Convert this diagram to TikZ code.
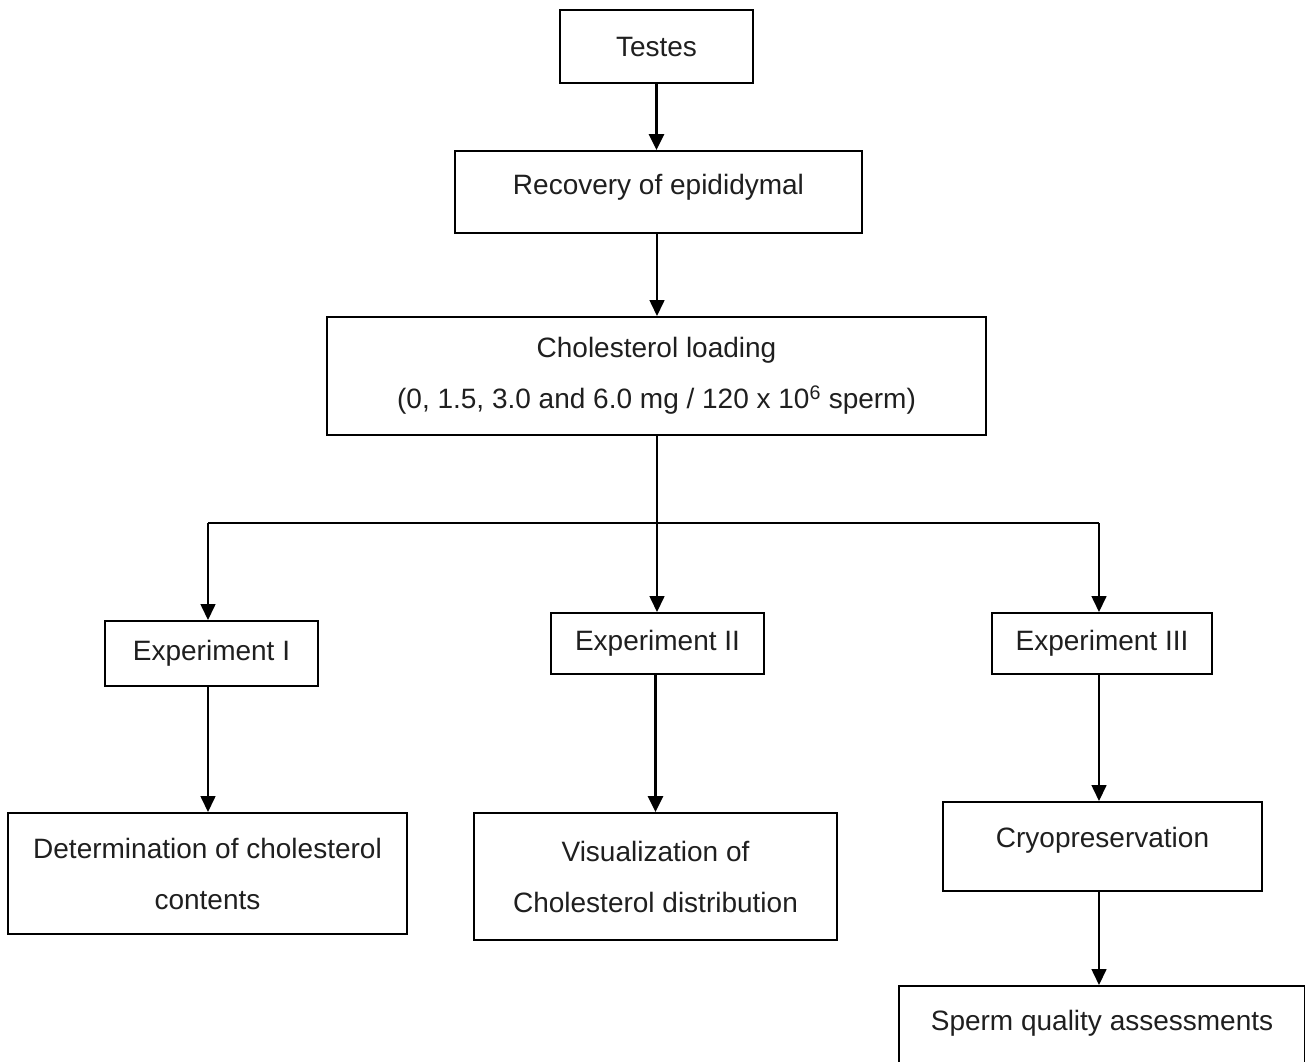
\documentclass[tikz,border=0pt]{standalone}
\usepackage{fontspec}
\setmainfont{Liberation Sans}
\usetikzlibrary{arrows.meta}
\begin{document}
\begin{tikzpicture}[x=1pt,y=-1pt,
  box/.style={draw=black, line width=2pt, inner sep=0pt, align=center,
    font=\fontsize{28}{51}\selectfont, text=black!88},
  conn/.style={line width=1.6pt, draw=black},
  arr/.style={conn, -{Triangle[width=15pt,length=16pt]}},
  thickarr/.style={arr, line width=2.8pt},
]
\useasboundingbox (0,0) rectangle (1305,1061);
\clip (0,0) rectangle (1305,1061);
\fill[white] (0,0) rectangle (1305,1061);

% boxes
\node[box, minimum width=193pt, minimum height=73pt] (testes) at (656.5,46.5) {Testes};
\node[box, minimum width=407pt, minimum height=82pt] (recovery) at (658.5,192)
  {\raisebox{5pt}[\height][\depth]{Recovery of epididymal}};
\node[box, minimum width=659pt, minimum height=118pt] (chol) at (656.5,376)
  {Cholesterol loading\\(0, 1.5, 3.0 and 6.0 mg / 120 x 10\textsuperscript{6} sperm)};
\node[box, minimum width=213pt, minimum height=65pt] (expI) at (211.5,653.5) {Experiment I};
\node[box, minimum width=213pt, minimum height=61pt] (expII) at (657.5,643.5) {Experiment II};
\node[box, minimum width=220pt, minimum height=61pt] (expIII) at (1102,643.5) {Experiment III};
\node[box, minimum width=399pt, minimum height=121pt] (det) at (207.5,873.5)
  {Determination of cholesterol\\contents};
\node[box, minimum width=363pt, minimum height=127pt] (vis) at (655.5,876.5)
  {Visualization of\\Cholesterol distribution};
\node[box, minimum width=319pt, minimum height=89pt] (cryo) at (1102.5,846.5)
  {\raisebox{6pt}[\height][\depth]{Cryopreservation}};
\node[box, minimum width=406pt, minimum height=90pt] (sperm) at (1102,1031)
  {\raisebox{8pt}[\height][\depth]{Sperm quality assessments}};

% junction points of the bus
\coordinate (jm) at (657,523);
\coordinate (jl) at (208,523);
\coordinate (jr) at (1099,523);
\coordinate (c2) at (655.5,0);

% connectors
\draw[thickarr] (testes.south) -- (testes.south |- recovery.north);
\draw[arr] (recovery.south -| jm) -- (jm |- chol.north);
\draw[conn] (chol.south -| jm) -- (jm);
\draw[conn, line width=2pt] (jl) -- (jr);
\draw[arr] (jl) -- (jl |- expI.north);
\draw[arr] (jm) -- (jm |- expII.north);
\draw[arr] (jr) -- (jr |- expIII.north);
\draw[arr] (expI.south -| jl) -- (jl |- det.north);
\draw[thickarr] (expII.south -| c2) -- (c2 |- vis.north);
\draw[arr] (expIII.south -| jr) -- (jr |- cryo.north);
\draw[arr] (cryo.south -| jr) -- (jr |- sperm.north);
\end{tikzpicture}
\end{document}
